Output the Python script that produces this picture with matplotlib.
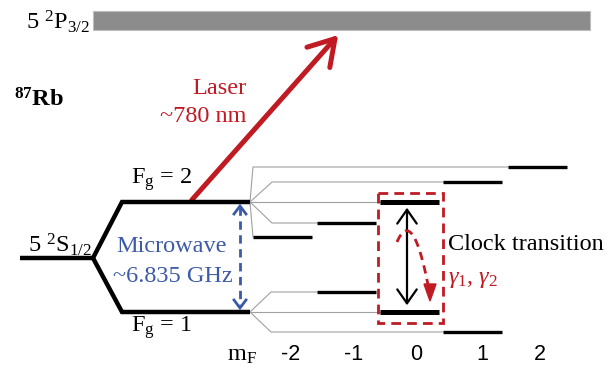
import matplotlib
matplotlib.use("Agg")
import matplotlib.pyplot as plt
from matplotlib.patches import FancyArrowPatch, Rectangle, Polygon
import numpy as np

plt.rcParams['font.family'] = ['Liberation Serif', 'DejaVu Serif']
plt.rcParams['mathtext.fontset'] = 'custom'
plt.rcParams['mathtext.rm'] = 'Liberation Serif'
plt.rcParams['mathtext.it'] = 'Liberation Serif:italic'
plt.rcParams['mathtext.bf'] = 'Liberation Serif:bold'

# ---- diagram data (pixel-like layout units, y grows downward) ----
mf_labels = ['-2', '-1', '0', '1', '2']
mf_label_x = [291, 354, 416, 482, 540]
f2_mf = [-2, -1, 0, 1, 2]
f2_level_y = [237, 223, 202, 182, 167]
f2_bar_left = [253, 317, 380, 443, 508]
f2_knee_x = [253, 272, 250, 272, 253]
f1_mf = [-1, 0, 1]
f1_level_y = [292, 312, 332]
f1_bar_left = [317, 380, 443]
f1_knee_x = [271, 250, 271]
bar_width = 59

RED = '#c01a22'
BLUE = '#3c5aa8'
FS = 17.5

fig = plt.figure(figsize=(6.16, 3.74), dpi=100)
ax = fig.add_axes([0, 0, 1, 1])
ax.set_xlim(0, 616)
ax.set_ylim(374, 0)
ax.axis('off')

# excited state band
ax.add_patch(Rectangle((93, 11), 497, 19, facecolor='#8c8c8c', edgecolor='#bdbdbd', lw=0.8))
ax.text(90, 22, r'5 $^{2}$P$_{3/2}$', fontsize=FS, ha='right', va='center')
ax.text(14, 100, r'$^{\mathbf{87}}$Rb', fontsize=FS, fontweight='bold', ha='left', va='center')

# ground state splitting
ax.plot([20, 93], [258, 258], color='black', lw=3.2, solid_capstyle='butt')
ax.plot([93, 122, 250], [258, 202, 202], color='black', lw=3.2, solid_joinstyle='miter', solid_capstyle='butt')
ax.plot([93, 122, 250], [258, 312, 312], color='black', lw=3.2, solid_joinstyle='miter', solid_capstyle='butt')
ax.text(92, 245, r'5 $^{2}$S$_{1/2}$', fontsize=FS, ha='right', va='center')
ax.text(131, 180, r'F$_\mathrm{g}$ = 2', fontsize=FS, ha='left', va='center')
ax.text(131, 328, r'F$_\mathrm{g}$ = 1', fontsize=FS, ha='left', va='center')

# Zeeman sublevels F=2
for m, y, xl, kx in zip(f2_mf, f2_level_y, f2_bar_left, f2_knee_x):
    ax.plot([250, kx, xl], [202, y, y], color='#a0a0a0', lw=0.8, zorder=1)
    lw = 3.6 if m == 0 else 2.4
    ax.plot([xl, xl + bar_width], [y, y], color='black', lw=lw, solid_capstyle='butt', zorder=3)
# Zeeman sublevels F=1
for m, y, xl, kx in zip(f1_mf, f1_level_y, f1_bar_left, f1_knee_x):
    ax.plot([250, kx, xl], [312, y, y], color='#a0a0a0', lw=0.8, zorder=1)
    lw = 3.6 if m == 0 else 2.4
    ax.plot([xl, xl + bar_width], [y, y], color='black', lw=lw, solid_capstyle='butt', zorder=3)

# mF labels
ax.text(227, 356, r'm$_\mathrm{F}$', fontsize=FS, ha='left', va='center')
for lab, x in zip(mf_labels, mf_label_x):
    ax.text(x, 355, lab, fontsize=15.5, ha='center', va='center', family='Liberation Sans')

# laser arrow
ax.add_patch(FancyArrowPatch((190, 202), (340, 33), arrowstyle='->,head_length=0.9,head_width=0.55',
                             mutation_scale=20, color=RED, lw=3.6, capstyle='round', joinstyle='round'))
ax.text(246, 88, 'Laser', color=RED, fontsize=FS, ha='right', va='center')
ax.text(246, 116, '~780 nm', color=RED, fontsize=FS, ha='right', va='center')

# microwave arrow (dashed with solid heads)
ax.plot([240, 240], [207, 306], color=BLUE, lw=2.0, ls=(0, (3, 2)))
ax.plot([234, 240, 246], [214, 206, 214], color=BLUE, lw=2.0, solid_joinstyle='miter')
ax.plot([234, 240, 246], [300, 308, 300], color=BLUE, lw=2.0, solid_joinstyle='miter')
ax.text(172, 246, 'Microwave', color=BLUE, fontsize=FS, ha='center', va='center')
ax.text(173, 277, '~6.835 GHz', color=BLUE, fontsize=FS, ha='center', va='center')

# clock transition box
ax.add_patch(Rectangle((378, 193), 65, 130, fill=False, edgecolor=RED, lw=2.0, ls=(0, (3.5, 2.2))))
ax.add_patch(FancyArrowPatch((407, 205), (407, 308), arrowstyle='<->,head_length=0.5,head_width=0.35',
                             mutation_scale=20, color='black', lw=1.6))
ax.text(448, 244, 'Clock transition', fontsize=FS, ha='left', va='center')

# decay arrow (curved, dashed)
t = np.linspace(0, 1, 60)
p0, p1, p2 = np.array([397, 242]), np.array([413, 205]), np.array([429, 290])
curve = ((1 - t) ** 2)[:, None] * p0 + (2 * (1 - t) * t)[:, None] * p1 + (t ** 2)[:, None] * p2
ax.plot(curve[:, 0], curve[:, 1], color=RED, lw=2.0, ls=(0, (3, 2)))
ax.add_patch(Polygon([[424, 284], [436, 284], [430, 301]], closed=True, color=RED))
ax.text(448, 280, r'$\gamma_{\mathit{1}}$, $\gamma_{\mathit{2}}$', color=RED, fontsize=FS, ha='left', va='center')

fig.savefig('out.png', dpi=100)
